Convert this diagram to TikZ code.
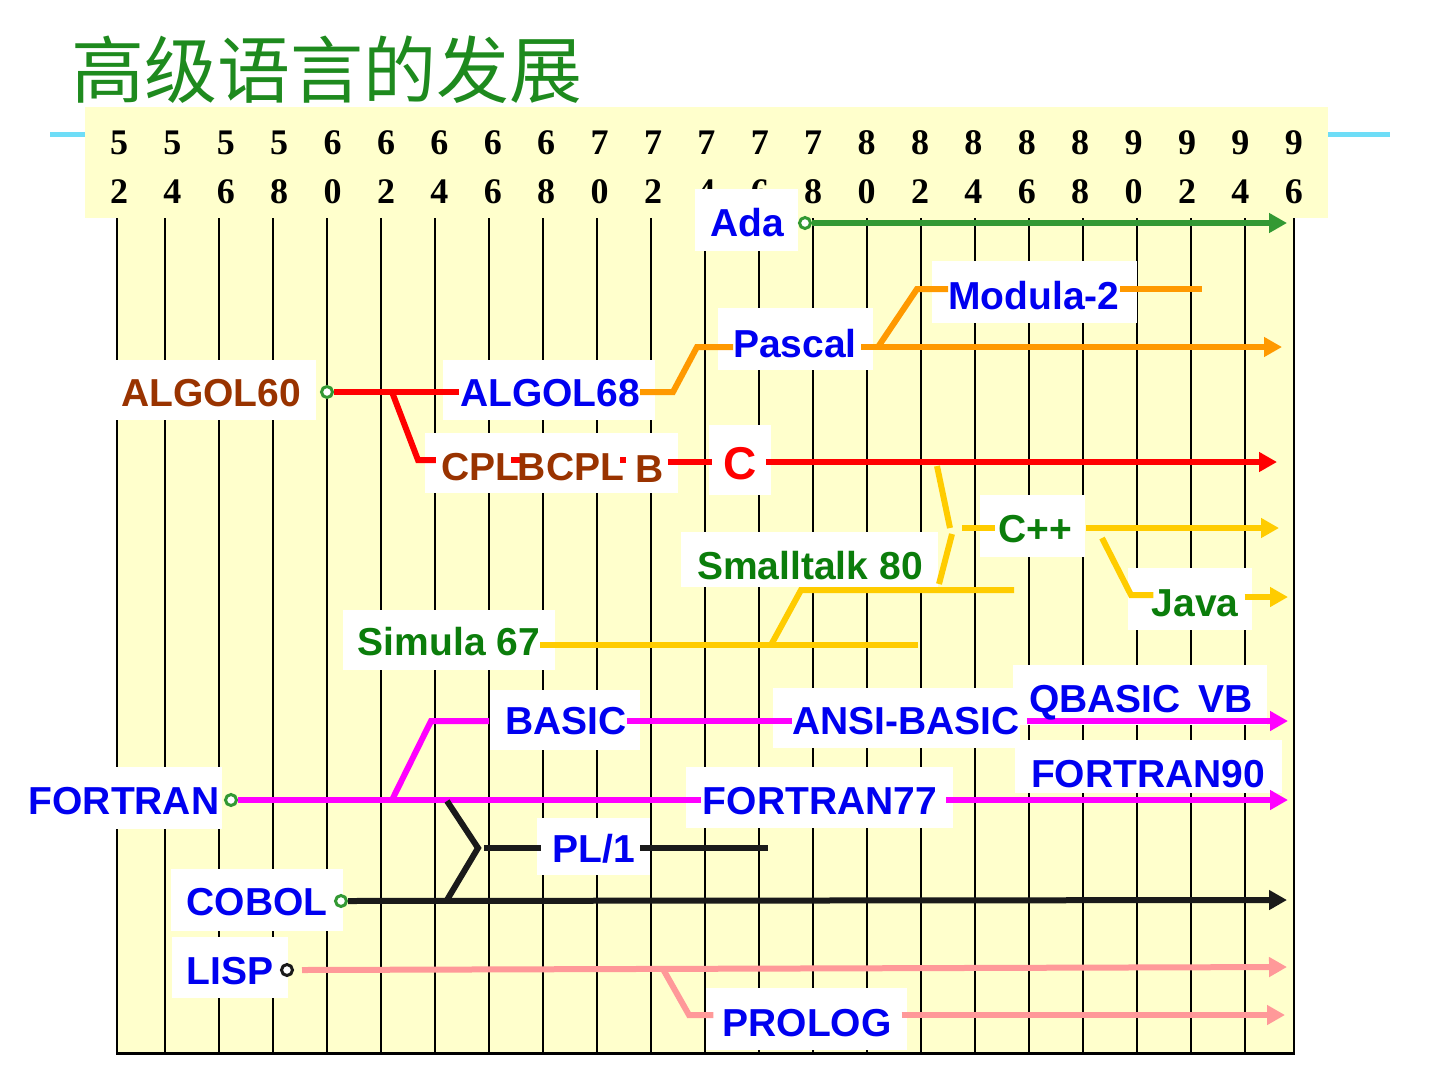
\documentclass[tikz,border=0pt]{standalone}
\usepackage{fontspec}
\setmainfont{Liberation Sans}
\newfontfamily\yrfont{Liberation Serif}
\newfontfamily\cjkfont{Noto Sans CJK SC}
\usetikzlibrary{arrows.meta,calc}
\definecolor{bgy}{HTML}{FFFFCC}
\definecolor{cyanl}{HTML}{6EDDF7}
\definecolor{titleg}{HTML}{1E8A1E}
\definecolor{lblue}{HTML}{0000F0}
\definecolor{lbrown}{HTML}{993300}
\definecolor{lgreen}{HTML}{0B7D0B}
\definecolor{adag}{HTML}{339933}
\definecolor{lorange}{HTML}{FF9900}
\definecolor{lyellow}{HTML}{FFCC00}
\definecolor{lmag}{HTML}{FF00FF}
\definecolor{lpink}{HTML}{FF9999}
\definecolor{lblack}{HTML}{1A1A1A}
\definecolor{lred}{HTML}{FF0000}
\begin{document}
\begin{tikzpicture}[x=1pt,y=-1pt,
  wbox/.style={fill=white, draw=none, inner sep=0pt},
  lbl/.style={inner sep=0pt, font=\bfseries\fontsize{39}{39}\selectfont, text height=28pt, text depth=0pt},
  lblc/.style={inner sep=0pt, font=\bfseries\fontsize{46}{46}\selectfont, text height=33pt, text depth=0pt},
  conn/.style={line width=6pt},
  arr/.style={conn, -{Triangle[length=18pt,width=19pt]}},
  dot/.style={circle, draw, line width=3pt, fill=white, minimum size=11pt, inner sep=0pt},
  yr/.style={font=\yrfont\bfseries\fontsize{36}{36}\selectfont, inner sep=0pt},
  gridl/.style={line width=2pt, black}
]
\useasboundingbox (0,0) rectangle (1440,1080);

% cyan rule, header and grid background
\draw[line width=5pt, cyanl] (50,134) -- (1390,134);
\fill[bgy] (85,107) rectangle (1328,218);
\fill[bgy] (117,218) rectangle (1294,1053);

% grid lines
\foreach \k in {0,...,20} \draw[gridl] ({165+54*\k},218) -- ({165+54*\k},1053);
\draw[gridl] (117,218) -- (117,1053);
\draw[gridl] (1294,218) -- (1294,1053);
\draw[line width=3pt] (116,1053) -- (1295,1053);

% years
\foreach \k in {0,...,22}{
  \pgfmathtruncatemacro{\yy}{52+2*\k}
  \pgfmathtruncatemacro{\ta}{\yy/10}
  \pgfmathtruncatemacro{\tb}{\yy-10*\ta}
  \node[yr] (yt\k) at ({119+53.4*\k},143) {\ta};
  \node[yr] (yb\k) at ({119+53.4*\k},192) {\tb};
}

% title
\node[inner sep=0pt, font=\cjkfont\fontsize{73}{73}\selectfont, text=titleg] (title) at (327,70) {高级语言的发展};

% white label boxes
\node[wbox, minimum width=103pt, minimum height=62pt] (bx-ada) at (746.5,220) {};
\node[wbox, minimum width=205pt, minimum height=62pt] (bx-modula) at (1034.5,292) {};
\node[wbox, minimum width=155pt, minimum height=62pt] (bx-pascal) at (795.5,339) {};
\node[wbox, minimum width=203pt, minimum height=60pt] (bx-algol60) at (214.5,390) {};
\node[wbox, minimum width=212pt, minimum height=60pt] (bx-algol68) at (549,390) {};
\node[wbox, minimum width=253pt, minimum height=60pt] (bx-cpl) at (551.5,463) {};
\node[wbox, minimum width=62pt, minimum height=70pt] (bx-c) at (740,460) {};
\node[wbox, minimum width=105pt, minimum height=62pt] (bx-cpp) at (1032.5,526) {};
\node[wbox, minimum width=257pt, minimum height=55pt] (bx-smalltalk) at (809.5,559.5) {};
\node[wbox, minimum width=124pt, minimum height=62pt] (bx-java) at (1190,599) {};
\node[wbox, minimum width=212pt, minimum height=60pt] (bx-simula) at (449,640) {};
\node[wbox, minimum width=247pt, minimum height=60pt] (bx-ansi) at (896.5,718) {};
\node[wbox, minimum width=254pt, minimum height=60pt] (bx-qbasic) at (1140,695) {};
\node[wbox, minimum width=150pt, minimum height=60pt] (bx-basic) at (565,720) {};
\node[wbox, minimum width=267pt, minimum height=53pt] (bx-fortran90) at (1148.5,766.5) {};
\node[wbox, minimum width=205pt, minimum height=62pt] (bx-fortran) at (119.5,798) {};
\node[wbox, minimum width=267pt, minimum height=61pt] (bx-fortran77) at (819.5,797.5) {};
\node[wbox, minimum width=113pt, minimum height=57pt] (bx-pl1) at (593.5,846.5) {};
\node[wbox, minimum width=172pt, minimum height=62pt] (bx-cobol) at (257,900) {};
\node[wbox, minimum width=116pt, minimum height=61pt] (bx-lisp) at (230,967.5) {};
\node[wbox, minimum width=201pt, minimum height=62pt] (bx-prolog) at (806.5,1019) {};

% label anchors (invisible placeholders with the text's size)
\path
  (747,222) node[lbl] (ada) {\phantom{Ada}}
  (1034,295) node[lbl] (modula) {\phantom{Modula-2}}
  (795,343) node[lbl] (pascal) {\phantom{Pascal}}
  (211,392) node[lbl] (algol60) {\phantom{ALGOL60}}
  (550,392) node[lbl] (algol68) {\phantom{ALGOL68}}
  (480,466) node[lbl] (cpl) {\phantom{CPL}}
  (571,466) node[lbl] (bcpl) {\phantom{BCPL}}
  (650,468) node[lbl] (b) {\phantom{B}}
  (740,463) node[lblc] (c) {\phantom{C}}
  (1035,528) node[lbl] (cpp) {\phantom{C++}}
  (810,565) node[lbl] (smalltalk) {\phantom{Smalltalk 80}}
  (1195,602) node[lbl] (java) {\phantom{Java}}
  (449,641) node[lbl] (simula) {\phantom{Simula 67}}
  (1141,698) node[lbl] (qbasic) {\phantom{QBASIC\hspace{0.45em}VB}}
  (566,720) node[lbl] (basic) {\phantom{BASIC}}
  (906,720) node[lbl] (ansi) {\phantom{ANSI-BASIC}}
  (1148,773) node[lbl] (fortran90) {\phantom{FORTRAN90}}
  (124,800) node[lbl] (fortran) {\phantom{FORTRAN}}
  (820,800) node[lbl] (fortran77) {\phantom{FORTRAN77}}
  (594,848) node[lbl] (pl1) {\phantom{PL/1}}
  (257,901) node[lbl] (cobol) {\phantom{COBOL}}
  (230,970) node[lbl] (lisp) {\phantom{LISP}}
  (807,1022) node[lbl] (prolog) {\phantom{PROLOG}};

% ---------- connectors ----------
% Ada
\node[dot, draw=adag] (adadot) at (805,223) {};
\coordinate (adaend) at (1287,223);
\draw[arr, adag] (adadot) -- (adaend);

% Pascal / Modula-2
\coordinate (o1) at (673,392);
\coordinate (o2) at (697,347);
\draw[conn, lorange] (algol68.east) -- (o1) -- (o2) -- (o2 -| pascal.west);
\coordinate (pasend) at (1282,347);
\draw[arr, lorange] ([xshift=4pt]pascal.east |- o2) -- (pasend);
\coordinate (o3) at (878,347);
\coordinate (o4) at (917,289);
\draw[conn, lorange] (o3) -- (o4) -- (o4 -| modula.west);
\coordinate (modend) at (1202,289);
\draw[conn, lorange] (o4 -| modula.east) -- (modend);

% ALGOL60 -> ALGOL68, CPL, BCPL, B, C
\node[dot, draw=adag] (a60dot) at (327,392) {};
\draw[conn, lred] (a60dot) -- ([xshift=-1pt]algol68.west);
\coordinate (r1) at (392,392);
\coordinate (r2) at (418,460);
\draw[conn, lred] (r1) -- (r2) -- ([xshift=-5pt]r2 -| cpl.west);
\draw[conn, lred] ([xshift=-8pt]cpl.east |- r2) -- ([xshift=3pt]bcpl.west |- r2);
\draw[conn, lred] ([xshift=-4pt]bcpl.east |- r2) -- ([xshift=-10pt]b.west |- r2);
\coordinate (cyl) at (0,462);
\draw[conn, lred] ([xshift=4pt]b.east |- cyl) -- ([xshift=-11pt]c.west |- cyl);
\coordinate (cend) at (1277,462);
\draw[arr, lred] ([xshift=9pt]c.east |- cyl) -- (cend);

% C++ / Smalltalk / Java / Simula
\coordinate (y1) at (937,466);
\coordinate (y2) at (950,528);
\draw[conn, lyellow] (y1) -- (y2);
\coordinate (y3) at (952,534);
\coordinate (y4) at (939,584);
\draw[conn, lyellow] (y3) -- (y4);
\coordinate (y5) at (962,528);
\draw[conn, lyellow] (y5) -- ([xshift=-3pt]cpp.west);
\coordinate (cppend) at (1279,528);
\draw[arr, lyellow] ([xshift=14pt]cpp.east) -- (cppend);
\coordinate (y6) at (1102,538);
\coordinate (y7) at (1131,595);
\draw[conn, lyellow] (y6) -- (y7) -- ([xshift=2pt]y7 -| java.west);
\coordinate (javaend) at (1288,597);
\draw[arr, lyellow] ([xshift=6pt]java.east |- javaend) -- (javaend);
\coordinate (simend) at (918,645);
\draw[conn, lyellow] (simula.east |- simend) -- (simend);
\coordinate (y8) at (771,645);
\coordinate (y9) at (801,590);
\coordinate (stend) at (1014,590);
\draw[conn, lyellow] (y8) -- (y9) -- (stend);

% FORTRAN family
\node[dot, draw=adag] (fdot) at (231,800) {};
\draw[conn, lmag] (fdot) -- ([xshift=-2pt]fortran77.west);
\coordinate (f77end) at (1288,800);
\draw[arr, lmag] ([xshift=9pt]fortran77.east) -- (f77end);
\coordinate (m1) at (392,800);
\coordinate (m2) at (431,721);
\draw[conn, lmag] (m1) -- (m2) -- ([xshift=-16pt]m2 -| basic.west);
\draw[conn, lmag] (basic.east |- m2) -- (ansi.west |- m2);
\coordinate (ansiend) at (1288,721);
\draw[arr, lmag] ([xshift=7pt]ansi.east |- ansiend) -- (ansiend);

% PL/1 and COBOL
\coordinate (k1) at (447,801);
\coordinate (k2) at (478,848);
\coordinate (k3) at (447,900);
\draw[conn, lblack] (k1) -- (k2) -- (k3);
\draw[conn, lblack] ([xshift=6pt]k2) -- ([xshift=-12pt]pl1.west);
\coordinate (pl1end) at (768,848);
\draw[conn, lblack] ([xshift=5pt]pl1.east) -- (pl1end);
\node[dot, draw=adag] (cdot) at (341,901) {};
\coordinate (cobend) at (1287,900);
\draw[arr, lblack] (cdot) -- (cobend);

% LISP / PROLOG
\node[dot, draw=lblack] (ldot) at (287,970) {};
\coordinate (lispend) at (1287,967);
\draw[arr, lpink] ([xshift=8pt]ldot.east) -- (lispend);
\coordinate (p1) at (663,969);
\coordinate (p2) at (689,1015);
\draw[conn, lpink] (p1) -- (p2) -- ([xshift=-9pt]p2 -| prolog.west);
\coordinate (prologend) at (1285,1015);
\draw[arr, lpink] ([xshift=10pt]prolog.east |- p2) -- (prologend);

% ---------- visible label texts on top ----------
\node[lbl, text=lblue] at (ada) {Ada};
\node[lbl, text=lblue] at (modula) {Modula-2};
\node[lbl, text=lblue] at (pascal) {Pascal};
\node[lbl, text=lbrown] at (algol60) {ALGOL60};
\node[lbl, text=lblue] at (algol68) {ALGOL68};
\node[lbl, text=lbrown] at (cpl) {CPL};
\node[lbl, text=lbrown] at (bcpl) {BCPL};
\node[lbl, text=lbrown] at (b) {B};
\node[lblc, text=lred] at (c) {C};
\node[lbl, text=lgreen] at (cpp) {C++};
\node[lbl, text=lgreen] at (smalltalk) {Smalltalk 80};
\node[lbl, text=lgreen] at (java) {Java};
\node[lbl, text=lgreen] at (simula) {Simula 67};
\node[lbl, text=lblue] at (qbasic) {QBASIC\hspace{0.45em}VB};
\node[lbl, text=lblue] at (basic) {BASIC};
\node[lbl, text=lblue] at (ansi) {ANSI-BASIC};
\node[lbl, text=lblue] at (fortran90) {FORTRAN90};
\node[lbl, text=lblue] at (fortran) {FORTRAN};
\node[lbl, text=lblue] at (fortran77) {FORTRAN77};
\node[lbl, text=lblue] at (pl1) {PL/1};
\node[lbl, text=lblue] at (cobol) {COBOL};
\node[lbl, text=lblue] at (lisp) {LISP};
\node[lbl, text=lblue] at (prolog) {PROLOG};
\end{tikzpicture}
\end{document}
